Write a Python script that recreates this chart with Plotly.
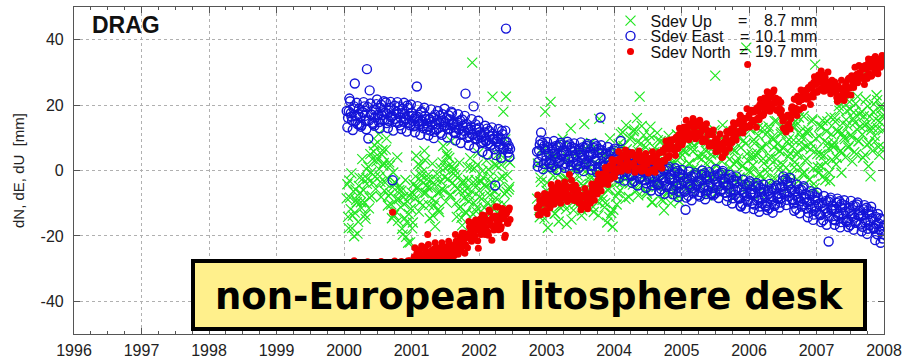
import plotly.graph_objects as go

# ---------------- data ----------------
# epochs of the solutions (decimal years), first set
epoch = [
    2000.04, 2000.06, 2000.08, 2000.10, 2000.12, 2000.14, 2000.16, 2000.18, 2000.20, 2000.22,
    2000.24, 2000.26, 2000.28, 2000.30, 2000.32, 2000.34, 2000.36, 2000.38, 2000.40, 2000.42,
    2000.44, 2000.46, 2000.48, 2000.50, 2000.52, 2000.54, 2000.56, 2000.58, 2000.60, 2000.62,
    2000.64, 2000.66, 2000.68, 2000.70, 2000.72, 2000.74, 2000.76, 2000.78, 2000.80, 2000.82,
    2000.84, 2000.86, 2000.88, 2000.90, 2000.92, 2000.94, 2000.96, 2000.98, 2001.00, 2001.02,
    2001.04, 2001.06, 2001.08, 2001.10, 2001.12, 2001.14, 2001.16, 2001.18, 2001.20, 2001.22,
    2001.24, 2001.26, 2001.28, 2001.30, 2001.32, 2001.34, 2001.36, 2001.38, 2001.40, 2001.42,
    2001.44, 2001.46, 2001.48, 2001.50, 2001.52, 2001.54, 2001.56, 2001.58, 2001.60, 2001.62,
    2001.64, 2001.66, 2001.68, 2001.70, 2001.72, 2001.74, 2001.76, 2001.78, 2001.80, 2001.82,
    2001.84, 2001.86, 2001.88, 2001.90, 2001.92, 2001.94, 2001.96, 2001.98, 2002.00, 2002.02,
    2002.04, 2002.06, 2002.08, 2002.10, 2002.12, 2002.14, 2002.16, 2002.18, 2002.20, 2002.22,
    2002.24, 2002.26, 2002.28, 2002.30, 2002.32, 2002.34, 2002.36, 2002.38, 2002.40, 2002.42,
    2002.44, 2002.46,
    2002.86, 2002.88, 2002.90, 2002.92, 2002.94, 2002.96, 2002.98, 2003.00, 2003.02, 2003.04,
    2003.06, 2003.08, 2003.10, 2003.12, 2003.14, 2003.16, 2003.18, 2003.20, 2003.22, 2003.24,
    2003.26, 2003.28, 2003.30, 2003.32, 2003.34, 2003.36, 2003.38, 2003.40, 2003.42, 2003.44,
    2003.46, 2003.48, 2003.50, 2003.52, 2003.54, 2003.56, 2003.58, 2003.60, 2003.62, 2003.64,
    2003.66, 2003.68, 2003.70, 2003.72, 2003.74, 2003.76, 2003.78, 2003.80, 2003.82, 2003.84,
    2003.86, 2003.88, 2003.90, 2003.92, 2003.94, 2003.96, 2003.98, 2004.00, 2004.02, 2004.04,
    2004.06, 2004.08, 2004.10, 2004.12, 2004.14, 2004.16, 2004.18, 2004.20, 2004.22, 2004.24,
    2004.26, 2004.28, 2004.30, 2004.32, 2004.34, 2004.36, 2004.38, 2004.40, 2004.42, 2004.44,
    2004.46, 2004.48, 2004.50, 2004.52, 2004.54, 2004.56, 2004.58, 2004.60, 2004.62, 2004.64,
    2004.66, 2004.68, 2004.70, 2004.72, 2004.74, 2004.76, 2004.78, 2004.80, 2004.82, 2004.84,
    2004.86, 2004.88, 2004.90, 2004.92, 2004.94, 2004.96, 2004.98, 2005.00, 2005.02, 2005.04,
    2005.06, 2005.08, 2005.10, 2005.12, 2005.14, 2005.16, 2005.18, 2005.20, 2005.22, 2005.24,
    2005.26, 2005.28, 2005.30, 2005.32, 2005.34, 2005.36, 2005.38, 2005.40, 2005.42, 2005.44,
    2005.46, 2005.48, 2005.50, 2005.52, 2005.54, 2005.56, 2005.58, 2005.60, 2005.62, 2005.64,
    2005.66, 2005.68, 2005.70, 2005.72, 2005.74, 2005.76, 2005.78, 2005.80, 2005.82, 2005.84,
    2005.86, 2005.88, 2005.90, 2005.92, 2005.94, 2005.96, 2005.98, 2006.00, 2006.02, 2006.04,
    2006.06, 2006.08, 2006.10, 2006.12, 2006.14, 2006.16, 2006.18, 2006.20, 2006.22, 2006.24,
    2006.26, 2006.28, 2006.30, 2006.32, 2006.34, 2006.36, 2006.38, 2006.40, 2006.42, 2006.44,
    2006.46, 2006.48, 2006.50, 2006.52, 2006.54, 2006.56, 2006.58, 2006.60, 2006.62, 2006.64,
    2006.66, 2006.68, 2006.70, 2006.72, 2006.74, 2006.76, 2006.78, 2006.80, 2006.82, 2006.84,
    2006.86, 2006.88, 2006.90, 2006.92, 2006.94, 2006.96, 2006.98, 2007.00, 2007.02, 2007.04,
    2007.06, 2007.08, 2007.10, 2007.12, 2007.14, 2007.16, 2007.18, 2007.20, 2007.22, 2007.24,
    2007.26, 2007.28, 2007.30, 2007.32, 2007.34, 2007.36, 2007.38, 2007.40, 2007.42, 2007.44,
    2007.46, 2007.48, 2007.50, 2007.52, 2007.54, 2007.56, 2007.58, 2007.60, 2007.62, 2007.64,
    2007.66, 2007.68, 2007.70, 2007.72, 2007.74, 2007.76, 2007.78, 2007.80, 2007.82, 2007.84,
    2007.86, 2007.88, 2007.90, 2007.92, 2007.94, 2007.96, 2007.98, 2008.00,
]

d_up = [
    -8.5, -14.2, -3.1, -11.8, -17.6, -6.4, -12.9, -9.0, -19.3, -4.7,
    -6.8, -11.5, -2.4, -9.7, -14.8, -4.1, 1.2, -8.3, -0.6, 3.5,
    5.8, -1.9, 2.7, 8.6, 0.4, -3.5, 4.9, 1.6, -6.2, 6.4,
    -2.3, -7.8, 1.5, -10.4, -5.1, -13.6, -3.7, -8.9, -15.4, -6.0,
    -11.2, -17.8, -8.1, -14.6, -20.3, -9.5, -13.3, -22.0, -6.7, -15.9,
    -7.4, -1.8, -5.6, 1.9, -9.8, -3.0, -0.4, -6.9, 3.2, -4.5,
    -5.2, -10.6, -2.8, -8.7, -13.9, -4.3, -9.5, -1.1, -11.8, -6.6,
    -3.4, 2.5, -6.1, 0.8, 5.2, -2.6, 3.9, -7.4, 1.3, -0.9,
    -4.8, -9.9, -2.2, -11.6, -6.3, -14.5, -3.6, -8.4, -12.7, -5.5,
    -2.9, -7.6, 0.9, 33.0, -9.8, -4.1, -12.5, 1.8, -6.2, -3.3,
    -8.7, -2.1, -11.4, -5.0, -14.2, 0.3, -7.5, -3.6, 22.6, -9.9,
    -6.4, 1.6, -10.8, -2.5, 4.8, -13.6, 18.0, -7.2, 22.6, -1.4,
    -5.8, 2.4,
    -8.6, 2.1, -14.3, -3.5, 6.8, -11.0, 18.0, -6.2, -17.5, 0.9,
    21.0, -9.4, -1.6, -13.2, 4.5, -6.8, -15.6, 1.2, -4.9, 9.7,
    -10.5, -2.3, -16.4, 3.8, -7.7, 12.9, -5.4, -12.1, 0.6, -8.8,
    -1.5, -9.2, 5.6, -13.8, -4.6, 14.2, -7.3, 1.9, -11.4, -2.8,
    8.4, -6.0, -12.7, 2.5, -3.9, -9.6, 15.8, -1.2, -7.9, 4.1,
    -11.3, 0.4, -15.9, -5.5, 9.8, -13.0, -17.2, -2.7, 6.1, -10.4,
    -6.9, 4.8, 11.2, -3.6, 7.5, -1.0, 13.9, 2.9, -8.1, 9.6,
    5.2, -4.3, 12.6, 1.1, 16.0, -7.6, 22.6, 8.3, -2.2, 10.8,
    4.1, -6.5, 9.0, -1.8, 13.4, -9.7, 2.6, 6.9, -4.0, 11.5,
    -3.4, 5.7, -8.9, 1.4, -12.2, 8.1, -1.1, -6.3, 3.6, -10.0,
    2.3, -5.2, 7.6, -0.4, 10.9, -7.8, 4.0, -2.6, 6.2, -4.7,
    5.8, -1.3, 9.4, 2.0, -4.6, 7.1, 0.5, 11.8, -2.9, 4.4,
    8.6, -0.8, 3.5, 12.2, -3.9, 6.0, 1.7, 9.9, -5.3, 4.9,
    0.2, 7.3, 29.0, -2.4, 5.5, 10.6, -4.1, 2.8, 8.0, -1.6,
    4.7, -3.0, 8.8, 0.9, -5.7, 6.4, 1.9, 11.3, -1.4, 3.8,
    -2.1, 7.0, 1.3, 9.2, -4.4, 37.6, 3.1, -0.3, 12.4, 5.0,
    1.6, 8.3, -3.2, 5.4, 10.7, -0.9, 6.6, 13.0, 2.2, -4.8,
    7.9, 1.0, 12.5, 4.3, -2.7, 9.5, 15.1, 3.4, 8.1, 0.2,
    6.0, 11.7, 1.8, 14.6, -1.5, 8.7, 4.2, 12.9, -3.0, 7.4,
    9.3, 2.6, 13.8, 5.7, 16.2, 0.8, 10.1, 6.9, -0.6, 11.9,
    3.5, 12.3, -2.8, 8.2, 15.7, -4.1, 32.4, 6.4, 1.0, 10.5,
    4.9, 13.4, -1.7, 9.0, 2.4, 15.0, 6.8, -3.3, 11.1, 7.7,
    8.5, 14.9, 3.9, 12.0, 18.3, 6.1, 11.4, 20.7, 9.6, 15.5,
    13.7, 7.5, 18.8, 10.2, 15.9, 5.6, 20.4, 12.6, 8.9, 17.2,
    28.7, 11.0, 16.6, 4.8, 14.1, 19.7, 8.4, -1.8, 13.3, 17.9,
    10.6, 15.8, 21.5, 7.2, 14.8, 19.0, 12.3, 16.9,
]

d_east = [
    18.2, 16.1, 22.0, 17.5, 15.3, 19.0, 26.6, 16.8, 14.2, 18.9,
    16.4, 13.9, 17.8, 19.6, 15.1, 31.0, 9.8, 24.5, 17.2, 14.6,
    18.6, 16.2, 20.3, 17.0, 14.8, 19.2, 16.9, 18.1, 15.5, 20.8,
    17.4, 15.2, 19.1, 16.3, -3.0, 18.4, 15.8, 17.9, 14.6, 19.6,
    16.1, 18.8, 14.9, 17.3, 15.6, 19.9, 16.7, 13.8, 17.6, 15.2,
    15.9, 13.7, 25.7, 16.4, 14.2, 17.8, 15.0, 12.9, 16.6, 14.4,
    13.6, 15.8, 12.2, 14.9, 16.3, 11.8, 14.1, 15.4, 13.0, 16.8,
    15.1, 17.2, 13.4, 14.8, 16.0, 12.6, 15.7, 13.9, 17.6, 14.3,
    13.2, 11.4, 14.8, 12.6, 15.3, 10.9, 13.7, 12.1, 23.5, 14.2,
    12.4, 10.3, 13.5, 11.1, 19.6, 9.8, 12.7, 10.6, 13.1, 11.0,
    10.2, 8.7, 11.6, 9.1, 12.8, 8.3, 10.5, 7.9, 11.2, 9.4,
    -4.6, 8.8, 10.6, 7.4, 9.6, 12.1, 7.0, 8.9, 43.4, 6.8,
    7.5, 6.6,
    5.8, 2.6, 7.9, 11.6, 8.4, 2.0, 6.5, 4.4, 7.2, 2.3,
    3.2, 6.9, 1.6, 5.2, 7.5, 3.9, 2.3, 7.9, 4.6, 6.1,
    5.4, 2.2, 7.5, 3.5, 8.0, 1.6, 6.1, 4.0, 6.8, 1.9,
    2.8, 6.5, 1.2, 4.8, 7.1, 3.5, 1.9, 7.5, 4.2, 5.7,
    4.8, 1.6, 6.9, 2.9, 7.4, 1.0, 5.5, 16.2, 6.2, 1.3,
    1.4, 5.1, -0.2, 3.4, 5.7, 2.1, 0.5, 6.1, 2.8, 4.3,
    2.3, -0.9, 9.0, 0.4, 4.9, -1.5, 3.0, 0.9, 3.7, -1.2,
    -1.6, 2.1, -3.2, 0.4, 2.7, -0.9, -2.5, 3.1, -0.2, 1.3,
    -0.7, -3.9, 1.4, -2.6, 1.9, -4.5, 0.0, -2.1, 0.7, -4.2,
    -4.1, -0.4, -5.7, -2.1, 0.2, -3.4, -5.0, 0.6, -2.7, -1.2,
    -2.7, -5.9, -0.6, -4.6, -0.1, -6.5, -2.0, -4.1, -1.3, -6.2,
    -12.0, -2.4, -7.7, -4.1, -1.8, -5.4, -7.0, -1.4, -4.7, -3.2,
    -3.4, -6.6, -1.3, -5.3, -0.8, -7.2, -2.7, -4.8, -2.0, -6.9,
    -5.4, -1.7, -7.0, -3.4, -1.1, -4.7, -6.3, -0.7, -4.0, -2.5,
    -4.7, -7.9, -2.6, -6.6, -2.1, -8.5, -4.0, -6.1, -3.3, -8.2,
    -8.6, -11.0, -10.2, -6.6, -4.3, -7.9, -9.5, -3.9, -7.2, -5.7,
    -7.2, -10.4, -5.1, -9.1, -4.6, -11.0, -6.5, -8.6, -5.8, -10.7,
    -9.9, -6.2, -11.5, -7.9, -5.6, -9.2, -10.8, -5.2, -8.5, -7.0,
    -5.2, -8.4, -3.1, -7.1, -2.6, -9.0, -4.5, -6.6, -3.8, -8.7,
    -10.1, -6.4, -11.7, -8.1, -5.8, -9.4, -11.0, -5.4, -8.7, -7.2,
    -9.7, -12.9, -7.6, -11.6, -7.1, -13.5, -9.0, -11.1, -8.3, -13.2,
    -13.6, -9.9, -15.2, -11.6, -9.3, -12.9, -21.7, -8.9, -12.2, -10.7,
    -12.0, -15.2, -9.9, -13.9, -9.4, -15.8, -11.3, -13.4, -10.6, -15.5,
    -15.1, -11.4, -16.7, -13.1, -10.8, -14.4, -16.0, -10.4, -13.7, -12.2,
    -14.0, -17.2, -11.9, -15.9, -11.4, -17.8, -13.3, -15.4, -12.6, -17.5,
    -17.6, -14.2, -19.5, -16.2, -14.6, -18.7, -20.8, -16.9,
]

d_north = [
    -30.5, -32.1, -29.4, -31.8, -33.0, -30.2, -31.5, -29.8, -32.6, -30.9,
    -31.2, -29.6, -32.4, -30.7, -31.9, -29.3, -32.8, -30.1, -31.4, -29.9,
    -30.8, -32.2, -29.5, -31.1, -30.3, -32.7, -29.7, -31.6, -30.4, -32.0,
    -30.6, -31.7, -29.2, -30.9, -12.8, -31.3, -29.9, -32.5, -30.0, -31.1,
    -29.4, -30.8, -28.5, -29.9, -28.1, -30.3, -28.9, -27.6, -29.5, -28.2,
    -26.4, -28.1, -25.2, -27.5, -24.3, -26.9, -28.4, -25.8, -23.6, -27.2,
    -19.6, -26.0, -24.8, -27.3, -25.5, -23.9, -26.8, -24.4, -27.6, -25.1,
    -26.2, -24.0, -27.1, -25.4, -23.3, -26.5, -24.7, -22.8, -25.9, -24.2,
    -23.5, -21.6, -24.7, -22.1, -20.4, -23.8, -21.0, -19.2, -22.6, -20.1,
    -19.5, -17.2, -20.8, -18.1, -15.9, -19.9, -16.6, -21.5, -17.7, -14.8,
    -16.2, -18.9, -13.8, -17.4, -15.1, -19.8, -12.6, -16.8, -14.3, -18.2,
    -13.9, -16.7, -11.2, -15.5, -17.9, -12.8, -14.6, -20.5, -13.3, -16.1,
    -12.1, -15.0,
    -11.5, -13.6, -9.2, -12.8, -10.0, -8.4, -12.2, -9.0, -7.4, -10.6,
    -8.6, -6.0, -9.4, -5.3, -7.8, -5.6, -9.0, -4.7, -7.2, -8.3,
    -5.6, -8.4, -4.8, -7.4, -1.2, -8.8, -5.0, -7.9, -6.0, -9.2,
    -7.0, -9.9, -7.6, -10.8, -8.2, -10.3, -7.2, -11.0, -7.8, -9.6,
    -7.8, -5.4, -7.4, -4.2, -6.3, -3.0, -5.2, -2.1, -4.3, -1.5,
    -3.4, -0.6, 0.5, -2.7, 1.5, -1.7, 2.0, -1.0, 2.8, -0.4,
    0.6, 3.6, 0.0, 4.3, 1.3, 5.0, 2.0, 5.4, 2.2, 4.7,
    1.6, 4.9, 1.0, 4.3, 0.8, 3.9, 4.6, 0.9, 3.5, 0.5,
    3.2, 0.0, 3.7, -0.3, 2.9, 4.0, 0.3, 3.4, 4.5, 1.6,
    2.6, 5.5, 2.2, 6.1, 3.1, 7.0, 3.8, 7.5, 4.6, 8.0,
    6.5, 9.4, 6.1, 10.2, 7.6, 11.0, 8.1, 11.6, 8.8, 12.2,
    10.2, 13.4, 9.8, 14.0, 10.9, 14.7, 11.5, 15.0, 11.2, 14.3,
    13.6, 10.4, 14.0, 9.6, 13.0, 9.0, 12.3, 8.4, 11.7, 8.0,
    10.9, 7.4, 9.2, 8.0, 8.4, 6.6, 7.6, 4.0, 8.0, 6.4,
    10.1, 8.4, 11.7, 8.2, 12.8, 9.6, 13.6, 10.7, 14.4, 11.4,
    15.3, 12.3, 16.1, 14.4, 15.8, 13.4, 32.4, 17.0, 14.0, 17.9,
    14.9, 18.5, 15.5, 19.2, 16.2, 20.1, 16.6, 20.6, 17.4, 21.1,
    19.0, 22.5, 19.5, 23.3, 20.4, 24.1, 20.6, 22.1, 18.4, 21.6,
    17.5, 18.4, 15.1, 16.1, 12.2, 13.3, 13.0, 17.0, 15.8, 19.5,
    18.2, 21.8, 18.7, 22.7, 21.0, 22.2, 21.6, 23.5, 22.2, 23.8,
    21.9, 25.4, 22.5, 26.2, 23.3, 27.0, 23.9, 27.5, 24.4, 28.1,
    24.9, 28.5, 25.4, 29.1, 25.7, 27.0, 25.3, 26.4, 24.7, 26.0,
    24.2, 25.3, 22.3, 25.9, 21.7, 25.0, 23.2, 24.3, 23.7, 26.8,
    25.0, 28.2, 25.4, 29.0, 27.1, 28.7, 27.7, 29.4, 28.2, 29.9,
    28.6, 31.7, 28.0, 32.1, 28.9, 32.6, 29.5, 32.2, 29.1, 32.8,
    30.0, 33.3, 30.5, 34.0, 32.2, 33.7, 32.8, 34.4,
]

# second set of epochs (solutions in between the first set)
epoch_b = [
    2000.05, 2000.07, 2000.09, 2000.11, 2000.13, 2000.15, 2000.17, 2000.19, 2000.21, 2000.23,
    2000.25, 2000.27, 2000.29, 2000.31, 2000.33, 2000.35, 2000.37, 2000.39, 2000.41, 2000.43,
    2000.45, 2000.47, 2000.49, 2000.51, 2000.53, 2000.55, 2000.57, 2000.59, 2000.61, 2000.63,
    2000.65, 2000.67, 2000.69, 2000.71, 2000.73, 2000.75, 2000.77, 2000.79, 2000.81, 2000.83,
    2000.85, 2000.87, 2000.89, 2000.91, 2000.93, 2000.95, 2000.97, 2000.99, 2001.01, 2001.03,
    2001.05, 2001.07, 2001.09, 2001.11, 2001.13, 2001.15, 2001.17, 2001.19, 2001.21, 2001.23,
    2001.25, 2001.27, 2001.29, 2001.31, 2001.33, 2001.35, 2001.37, 2001.39, 2001.41, 2001.43,
    2001.45, 2001.47, 2001.49, 2001.51, 2001.53, 2001.55, 2001.57, 2001.59, 2001.61, 2001.63,
    2001.65, 2001.67, 2001.69, 2001.71, 2001.73, 2001.75, 2001.77, 2001.79, 2001.81, 2001.83,
    2001.85, 2001.87, 2001.89, 2001.91, 2001.93, 2001.95, 2001.97, 2001.99, 2002.01, 2002.03,
    2002.05, 2002.07, 2002.09, 2002.11, 2002.13, 2002.15, 2002.17, 2002.19, 2002.21, 2002.23,
    2002.25, 2002.27, 2002.29, 2002.31, 2002.33, 2002.35, 2002.37, 2002.39, 2002.41, 2002.43,
    2002.45,
    2002.87, 2002.89, 2002.91, 2002.93, 2002.95, 2002.97, 2002.99, 2003.01, 2003.03, 2003.05,
    2003.07, 2003.09, 2003.11, 2003.13, 2003.15, 2003.17, 2003.19, 2003.21, 2003.23, 2003.25,
    2003.27, 2003.29, 2003.31, 2003.33, 2003.35, 2003.37, 2003.39, 2003.41, 2003.43, 2003.45,
    2003.47, 2003.49, 2003.51, 2003.53, 2003.55, 2003.57, 2003.59, 2003.61, 2003.63, 2003.65,
    2003.67, 2003.69, 2003.71, 2003.73, 2003.75, 2003.77, 2003.79, 2003.81, 2003.83, 2003.85,
    2003.87, 2003.89, 2003.91, 2003.93, 2003.95, 2003.97, 2003.99, 2004.01, 2004.03, 2004.05,
    2004.07, 2004.09, 2004.11, 2004.13, 2004.15, 2004.17, 2004.19, 2004.21, 2004.23, 2004.25,
    2004.27, 2004.29, 2004.31, 2004.33, 2004.35, 2004.37, 2004.39, 2004.41, 2004.43, 2004.45,
    2004.47, 2004.49, 2004.51, 2004.53, 2004.55, 2004.57, 2004.59, 2004.61, 2004.63, 2004.65,
    2004.67, 2004.69, 2004.71, 2004.73, 2004.75, 2004.77, 2004.79, 2004.81, 2004.83, 2004.85,
    2004.87, 2004.89, 2004.91, 2004.93, 2004.95, 2004.97, 2004.99, 2005.01, 2005.03, 2005.05,
    2005.07, 2005.09, 2005.11, 2005.13, 2005.15, 2005.17, 2005.19, 2005.21, 2005.23, 2005.25,
    2005.27, 2005.29, 2005.31, 2005.33, 2005.35, 2005.37, 2005.39, 2005.41, 2005.43, 2005.45,
    2005.47, 2005.49, 2005.51, 2005.53, 2005.55, 2005.57, 2005.59, 2005.61, 2005.63, 2005.65,
    2005.67, 2005.69, 2005.71, 2005.73, 2005.75, 2005.77, 2005.79, 2005.81, 2005.83, 2005.85,
    2005.87, 2005.89, 2005.91, 2005.93, 2005.95, 2005.97, 2005.99, 2006.01, 2006.03, 2006.05,
    2006.07, 2006.09, 2006.11, 2006.13, 2006.15, 2006.17, 2006.19, 2006.21, 2006.23, 2006.25,
    2006.27, 2006.29, 2006.31, 2006.33, 2006.35, 2006.37, 2006.39, 2006.41, 2006.43, 2006.45,
    2006.47, 2006.49, 2006.51, 2006.53, 2006.55, 2006.57, 2006.59, 2006.61, 2006.63, 2006.65,
    2006.67, 2006.69, 2006.71, 2006.73, 2006.75, 2006.77, 2006.79, 2006.81, 2006.83, 2006.85,
    2006.87, 2006.89, 2006.91, 2006.93, 2006.95, 2006.97, 2006.99, 2007.01, 2007.03, 2007.05,
    2007.07, 2007.09, 2007.11, 2007.13, 2007.15, 2007.17, 2007.19, 2007.21, 2007.23, 2007.25,
    2007.27, 2007.29, 2007.31, 2007.33, 2007.35, 2007.37, 2007.39, 2007.41, 2007.43, 2007.45,
    2007.47, 2007.49, 2007.51, 2007.53, 2007.55, 2007.57, 2007.59, 2007.61, 2007.63, 2007.65,
    2007.67, 2007.69, 2007.71, 2007.73, 2007.75, 2007.77, 2007.79, 2007.81, 2007.83, 2007.85,
    2007.87, 2007.89, 2007.91, 2007.93, 2007.95, 2007.97, 2007.99,
]

d_up_b = [
    -4.2, -17.6, -8.3, -0.9, -13.8, -20.1, -5.8, -9.7, -15.7, -2.2,
    -9.7, 3.5, -6.0, -13.6, 0.4, -2.6, -11.6, 5.0, -7.8, -3.7,
    7.8, -5.6, 3.7, 11.1, -1.8, -8.1, 6.2, 2.3, -3.7, 9.8,
    -10.7, 2.5, -7.0, -14.6, -0.6, -3.6, -12.6, 4.0, -8.8, -4.7,
    -6.2, -19.6, -10.3, -2.9, -15.8, -22.1, -7.8, -11.7, -17.7, -4.2,
    -8.7, 4.5, -5.0, -12.6, 1.4, -1.6, -10.6, 6.0, -6.8, -2.7,
    -1.2, -14.6, -5.3, 2.1, -10.8, -17.1, -2.8, -6.7, -12.7, 0.8,
    -5.7, 7.5, -2.0, -9.6, 4.4, 1.4, -7.6, 9.0, -3.8, 0.3,
    -1.5, -14.2, -5.6, 2.4, -11.1, -16.8, -3.1, -6.4, -13.0, 1.1,
    -9.4, 3.8, -6.3, -13.3, 0.7, -2.9, -11.3, 5.3, -8.1, -3.4,
    -0.2, -13.6, -4.3, 3.1, -9.8, -16.1, -1.8, -5.7, -11.7, 1.8,
    -8.4, 4.8, -5.3, -12.3, 1.7, -1.9, -10.3, 9.5, -6.5, 3.0,
    -5.0,
    2.1, -12.1, -2.2, 5.7, -8.1, -14.7, 0.5, -3.7, -10.0, 4.3,
    -9.0, 5.0, -5.1, -13.2, 1.7, -1.4, -11.0, 6.6, -7.0, -2.6,
    2.4, -11.8, -2.5, 6.0, -7.8, -15.0, 0.8, -3.4, -10.3, 4.6,
    -8.0, 6.0, -4.1, -12.2, 2.7, -0.4, -10.0, 7.6, -6.0, -1.6,
    3.1, -11.1, -1.2, 6.7, -7.1, -13.7, 1.5, -2.7, -9.0, 5.3,
    -10.0, 4.0, -6.1, -14.2, 0.7, -2.4, -12.0, 5.6, -8.0, -3.6,
    8.1, -6.1, 3.8, 11.7, -2.1, -8.7, 6.5, 2.3, -4.0, 10.3,
    -2.0, 12.0, 1.9, -6.2, 8.7, 5.6, -4.0, 13.6, 0.0, 4.4,
    7.1, -7.1, 2.8, 10.7, -3.1, -9.7, 5.5, 1.3, -5.0, 9.3,
    -5.0, 9.0, -1.1, -9.2, 5.7, 2.6, -7.0, 10.6, -3.0, 1.4,
    7.4, -6.8, 2.5, 11.0, -3.4, -9.4, 5.2, 1.6, -5.3, 9.6,
    -2.3, 11.7, 2.2, -5.9, 8.4, 5.9, -3.7, 13.3, 0.3, 4.1,
    9.1, -5.1, 4.8, 12.7, -1.1, -7.7, 7.5, 3.3, -3.0, 11.3,
    -1.7, 12.3, 1.6, -6.5, 9.0, 5.3, -4.3, 13.9, -0.3, 4.7,
    8.4, -5.8, 3.5, 12.0, -2.4, -8.4, 6.2, 2.6, -3.7, 10.0,
    -2.5, 11.5, 1.4, -6.7, 8.2, 5.1, -4.5, 13.1, -0.5, 3.9,
    9.4, -4.8, 4.5, 13.0, -1.4, -7.4, 7.2, 3.6, -2.7, 11.0,
    -0.5, 13.5, 3.4, -4.7, 10.2, 7.1, -2.5, 15.1, 1.5, 5.9,
    11.1, -3.1, 6.8, 14.7, 0.9, -5.7, 9.5, 5.3, -1.0, 13.3,
    1.0, 15.0, 4.9, -3.2, 11.7, 8.6, -1.0, 16.6, 3.0, 7.4,
    11.4, -2.8, 6.5, 15.0, 0.6, -5.4, 9.8, 5.0, -0.7, 13.6,
    1.3, 15.3, 4.6, -2.9, 12.0, 8.3, -0.7, 16.3, 3.3, 7.1,
    16.1, 1.9, 11.8, 19.7, 5.9, -0.7, 14.5, 10.3, 4.0, 18.3,
    7.0, 21.0, 10.9, 2.8, 17.7, 14.6, 5.0, 22.6, 9.0, 13.4,
    18.1, 3.9, 13.8, 21.7, 7.9, 1.3, 16.5, 12.3, 6.0, 20.3,
    9.0, 23.0, 12.9, 4.8, 19.7, 16.6, 7.0,
]

d_east_b = [
    13.2, 18.1, 21.2, 16.5, 12.4, 19.6, 15.1, 20.7, 17.2, 14.0,
    13.4, 17.9, 20.9, 16.7, 12.6, 19.4, 15.3, 20.5, 17.0, 14.2,
    13.7, 18.6, 21.7, 17.0, 12.9, 20.1, 15.6, 21.2, 17.7, 14.5,
    13.0, 18.3, 21.0, 16.8, 12.2, 19.8, 14.9, 20.9, 17.4, 13.8,
    12.7, 17.6, 20.7, 16.0, 11.9, 19.1, 14.6, 20.2, 16.7, 13.5,
    11.7, 16.6, 19.7, 15.0, 10.9, 18.1, 13.6, 19.2, 15.7, 12.5,
    10.7, 15.6, 18.7, 14.0, 9.9, 17.1, 12.6, 18.2, 14.7, 11.5,
    10.9, 15.4, 18.9, 13.8, 10.1, 16.9, 12.8, 18.0, 14.5, 11.7,
    9.2, 14.1, 17.2, 12.5, 8.4, 15.6, 11.1, 16.7, 13.2, 10.0,
    7.7, 12.6, 15.7, 11.0, 6.9, 14.1, 9.6, 15.2, 11.7, 8.5,
    5.7, 10.6, 13.7, 9.0, 4.9, 12.1, 7.6, 13.2, 9.7, 6.5,
    4.7, 9.6, 12.7, 8.0, 3.9, 11.1, 6.6, 12.2, 8.7, 5.5,
    4.2,
    1.2, 6.1, 9.2, 4.5, 0.4, 7.6, 3.1, 8.7, 5.2, 2.0,
    1.0, 5.9, 9.0, 4.3, 0.2, 7.4, 2.9, 8.5, 5.0, 1.8,
    0.8, 5.7, 8.8, 4.1, 0.0, 7.2, 2.7, 8.3, 4.8, 1.6,
    0.6, 5.5, 8.6, 3.9, -0.2, 7.0, 2.5, 8.1, 4.6, 1.4,
    0.2, 5.1, 8.2, 3.5, -0.6, 6.6, 2.1, 7.7, 4.2, 1.0,
    -0.8, 4.1, 7.2, 2.5, -1.6, 5.6, 1.1, 6.7, 3.2, 0.0,
    -2.3, 2.6, 5.7, 1.0, -3.1, 4.1, -0.4, 5.2, 1.7, -1.5,
    -3.8, 1.1, 4.2, -0.5, -4.6, 2.6, -1.9, 3.7, 0.2, -3.0,
    -5.3, -0.4, 2.7, -2.0, -6.1, 1.1, -3.4, 2.2, -1.3, -4.5,
    -6.3, -1.4, 1.7, -3.0, -7.1, 0.1, -4.4, 1.2, -2.3, -5.5,
    -7.3, -2.4, 0.7, -4.0, -8.1, -0.9, -5.4, 0.2, -3.3, -6.5,
    -8.3, -3.4, -0.3, -5.0, -9.1, -1.9, -6.4, -0.8, -4.3, -7.5,
    -8.0, -3.1, 0.0, -4.7, -8.8, -1.6, -6.1, -0.5, -4.0, -7.2,
    -7.6, -2.7, 0.4, -4.3, -8.4, -1.2, -5.7, -0.1, -3.6, -6.8,
    -9.3, -4.4, -1.3, -6.0, -10.1, -2.9, -7.4, -1.8, -5.3, -8.5,
    -10.8, -5.9, -2.8, -7.5, -11.6, -4.4, -8.9, -3.3, -6.8, -10.0,
    -11.8, -6.9, -3.8, -8.5, -12.6, -5.4, -9.9, -4.3, -7.8, -11.0,
    -12.1, -7.2, -4.1, -8.8, -12.9, -5.7, -10.2, -4.6, -8.1, -11.3,
    -9.8, -4.9, -1.8, -6.5, -10.6, -3.4, -7.9, -2.3, -5.8, -9.0,
    -12.3, -7.4, -4.3, -9.0, -13.1, -5.9, -10.4, -4.8, -8.3, -11.5,
    -14.3, -9.4, -6.3, -11.0, -15.1, -7.9, -12.4, -6.8, -10.3, -13.5,
    -15.8, -10.9, -7.8, -12.5, -16.6, -9.4, -13.9, -8.3, -11.8, -15.0,
    -16.6, -11.7, -8.6, -13.3, -17.4, -10.2, -14.7, -9.1, -12.6, -15.8,
    -17.3, -12.4, -9.3, -14.0, -18.1, -10.9, -15.4, -9.8, -13.3, -16.5,
    -18.6, -13.7, -10.6, -15.3, -19.4, -12.2, -16.7, -11.1, -14.6, -17.8,
    -21.3, -16.4, -13.3, -18.0, -22.1, -14.9, -19.4,
]

d_north_b = [
    -28.1, -31.4, -34.1, -29.8, -33.2, -27.6, -30.7, -33.8, -29.1, -32.1,
    -28.4, -31.0, -33.7, -30.2, -32.8, -27.9, -31.3, -34.0, -28.8, -31.6,
    -28.3, -31.7, -33.9, -29.5, -32.6, -27.8, -30.4, -33.5, -29.4, -31.9,
    -28.6, -31.2, -34.3, -30.0, -33.0, -27.7, -30.9, -33.6, -29.0, -32.3,
    -27.8, -30.9, -33.6, -29.3, -32.7, -27.6, -30.2, -33.3, -28.6, -31.6,
    -23.6, -26.9, -29.6, -25.3, -28.7, -23.1, -26.2, -29.3, -24.6, -27.6,
    -22.6, -25.9, -28.6, -24.3, -27.7, -22.1, -25.2, -28.3, -23.6, -26.6,
    -22.1, -25.4, -28.1, -23.8, -27.2, -21.6, -24.7, -27.8, -23.1, -26.1,
    -19.6, -22.9, -25.6, -21.3, -24.7, -19.1, -22.2, -25.3, -20.6, -23.6,
    -15.6, -18.9, -21.6, -17.3, -20.7, -15.1, -18.2, -23.8, -16.6, -19.6,
    -13.6, -16.9, -19.6, -15.3, -18.7, -12.1, -16.2, -21.3, -14.6, -17.6,
    -11.1, -15.4, -18.1, -13.8, -17.2, -11.6, -14.7, -19.8, -13.1, -16.1,
    -11.5,
    -7.5, -10.8, -13.5, -9.2, -12.6, -7.0, -10.1, -13.2, -8.5, -11.5,
    -4.3, -7.6, -10.3, -6.0, -9.4, -3.8, -6.9, -10.0, -5.3, -8.3,
    -3.5, -6.8, -9.5, -5.2, -8.6, -3.0, -6.1, -9.2, -4.5, -7.5,
    -6.0, -9.3, -12.0, -7.7, -11.1, -5.5, -8.6, -11.7, -7.0, -10.0,
    -4.1, -6.9, -9.1, -4.3, -7.2, -1.1, -3.7, -6.3, -1.1, -3.6,
    0.9, -2.0, -4.3, 0.4, -2.6, 3.4, 0.7, -2.0, 3.1, 0.4,
    5.8, 2.5, -0.2, 4.1, 0.7, 6.3, 3.2, 0.1, 4.8, 1.8,
    5.5, 2.2, -0.5, 3.8, 0.4, 6.0, 2.9, -0.2, 4.5, 1.5,
    5.2, 1.9, -0.8, 3.5, 0.1, 5.7, 2.6, -0.5, 4.2, 1.2,
    5.5, 2.8, 0.7, 5.6, 2.8, 9.0, 6.5, 4.0, 9.3, 6.9,
    9.4, 6.7, 4.6, 9.5, 6.7, 12.9, 10.4, 7.9, 13.2, 10.8,
    15.4, 12.1, 9.4, 13.7, 10.3, 15.9, 12.8, 9.7, 14.4, 11.4,
    15.4, 11.8, 8.8, 12.7, 9.0, 14.3, 10.8, 7.4, 11.7, 8.4,
    12.4, 8.8, 5.7, 9.7, 6.0, 11.2, 7.8, 4.2, 8.7, 5.4,
    11.9, 9.0, 6.8, 11.5, 8.6, 14.6, 12.0, 9.3, 14.5, 11.9,
    16.9, 13.9, 11.5, 15.9, 13.0, 18.9, 16.1, 13.3, 18.4, 15.4,
    17.9, 15.3, 13.2, 18.2, 15.5, 21.7, 19.3, 16.9, 22.2, 19.9,
    24.1, 20.8, 18.1, 22.4, 19.0, 24.6, 21.5, 18.4, 21.1, 19.1,
    20.9, 16.6, 12.9, 16.2, 11.8, 16.9, 14.3, 12.7, 18.9, 17.4,
    21.9, 19.0, 16.8, 21.5, 18.6, 24.6, 22.0, 19.3, 24.5, 21.9,
    24.9, 22.3, 20.2, 25.2, 22.5, 28.7, 26.3, 23.9, 29.2, 26.9,
    30.4, 26.9, 24.2, 28.3, 24.7, 30.1, 26.8, 23.5, 27.6, 24.4,
    27.1, 23.8, 21.1, 25.4, 22.0, 27.6, 24.5, 21.4, 26.1, 23.1,
    27.9, 25.2, 23.1, 28.1, 25.4, 31.6, 29.2, 26.8, 32.1, 29.9,
    31.4, 28.5, 26.3, 31.0, 28.1, 34.1, 31.5, 28.8, 34.0, 31.4,
    34.9, 31.8, 29.6, 34.0, 31.6, 35.2, 33.5,
]

series_names = ["Sdev Up", "Sdev East", "Sdev North"]
sdev_values = ["8.7 mm", "10.1 mm", "19.7 mm"]
year_ticks = [1996, 1997, 1998, 1999, 2000, 2001, 2002, 2003, 2004, 2005, 2006, 2007, 2008]
year_labels = [str(y) for y in year_ticks]
mm_ticks = [-40, -20, 0, 20, 40]
mm_labels = ["-40", "-20", "0", "20", "40"]

assert len(epoch) == len(d_up) == len(d_east) == len(d_north), (
    len(epoch), len(d_up), len(d_east), len(d_north))
assert len(epoch_b) == len(d_up_b) == len(d_east_b) == len(d_north_b), (
    len(epoch_b), len(d_up_b), len(d_east_b), len(d_north_b))

# ---------------- styling ----------------
GREEN = "#22e622"
BLUE = "#1414d8"
RED = "#f20000"
FONT = "Liberation Sans, Arial, Helvetica, sans-serif"

W, H = 905, 358
L, R, T, B = 74, 21, 7, 24
PW, PH = W - L - R, H - T - B


def px(xp):
    return (xp - L) / PW


def py(yp):
    return (H - B - yp) / PH


fig = go.Figure()
fig.add_trace(go.Scatter(
    x=epoch + epoch_b, y=d_up + d_up_b, mode="markers", name=series_names[0], legend="legend",
    marker=dict(symbol="x-thin", size=10, color=GREEN, line=dict(width=1.2, color=GREEN)),
))
fig.add_trace(go.Scatter(
    x=epoch + epoch_b, y=d_east + d_east_b, mode="markers", name=series_names[1], legend="legend2",
    marker=dict(symbol="circle-open", size=9, color=BLUE, line=dict(width=1.4, color=BLUE)),
))
fig.add_trace(go.Scatter(
    x=epoch + epoch_b, y=d_north + d_north_b, mode="markers", name=series_names[2], legend="legend3",
    marker=dict(symbol="circle", size=7, color=RED, line=dict(width=0)),
))

axis_common = dict(
    showline=True, linecolor="#555", linewidth=1.2, mirror="allticks",
    ticks="inside", ticklen=6, tickwidth=1, tickcolor="#555",
    showgrid=True, gridcolor="#b0b0b0", gridwidth=1, griddash="dot",
    zeroline=False, tickfont=dict(family=FONT, size=16, color="#222"),
)

fig.update_xaxes(
    range=[1996, 2008], tickmode="array", tickvals=year_ticks, ticktext=year_labels,
    ticklabelstandoff=2,
    minor=dict(tick0=1996, dtick=0.25, ticks="inside", ticklen=3, tickcolor="#555", showgrid=False),
    **axis_common,
)
fig.update_yaxes(
    range=[-50, 50], tickmode="array", tickvals=mm_ticks, ticktext=mm_labels,
    ticklabelstandoff=6,
    title=dict(text="dN, dE, dU\u00a0 [mm]", font=dict(family=FONT, size=15, color="#222"), standoff=12),
    **axis_common,
)

leg_common = dict(
    xanchor="left", yanchor="middle", bgcolor="rgba(0,0,0,0)",
    font=dict(family=FONT, size=16, color="#111"), borderwidth=0,
)
LEGX = px(610.5)
row_y = [20.7, 36.0, 51.7]
fig.update_layout(
    width=W, height=H,
    margin=dict(l=L, r=R, t=T, b=B, autoexpand=False),
    paper_bgcolor="white", plot_bgcolor="white",
    font=dict(family=FONT, size=16, color="#111"),
    showlegend=True,
    legend=dict(x=LEGX, y=py(row_y[0]), **leg_common),
    legend2=dict(x=LEGX, y=py(row_y[1]), **leg_common),
    legend3=dict(x=LEGX, y=py(row_y[2]), **leg_common),
)

shapes = [
    # white backing of the key (hides grid lines)
    dict(type="rect", xref="paper", yref="paper", x0=px(625), x1=px(829), y0=py(60), y1=py(7.5),
         fillcolor="white", line=dict(width=0), layer="between"),
    # yellow label box
    dict(type="rect", xref="paper", yref="paper", x0=px(193), x1=px(865), y0=py(329), y1=py(261),
         fillcolor="#fff08c", line=dict(color="black", width=4), layer="above"),
]
fig.update_layout(shapes=shapes)

eq_x = [736, 738, 737]
annotations = [
    dict(text="<b>DRAG</b>", xref="paper", yref="paper", x=px(90), y=py(24.5),
         xanchor="left", yanchor="middle", showarrow=False,
         font=dict(family=FONT, size=23, color="#111")),
    dict(text="<b>non-European litosphere desk</b>", xref="paper", yref="paper",
         x=px(529), y=py(296), xanchor="center", yanchor="middle", showarrow=False,
         font=dict(family="DejaVu Sans, Verdana, sans-serif", size=37, color="black")),
]
for i in range(3):
    annotations.append(dict(text="=", xref="paper", yref="paper", x=px(eq_x[i]), y=py(row_y[i]),
                            xanchor="left", yanchor="middle", showarrow=False,
                            font=dict(family=FONT, size=16, color="#111")))
    annotations.append(dict(text=sdev_values[i], xref="paper", yref="paper", x=px(819), y=py(row_y[i]),
                            xanchor="right", yanchor="middle", showarrow=False,
                            font=dict(family=FONT, size=16, color="#111")))
fig.update_layout(annotations=annotations)

fig.write_html("out.html", config={"displayModeBar": False},
               post_script="document.body.style.margin='0px';")
